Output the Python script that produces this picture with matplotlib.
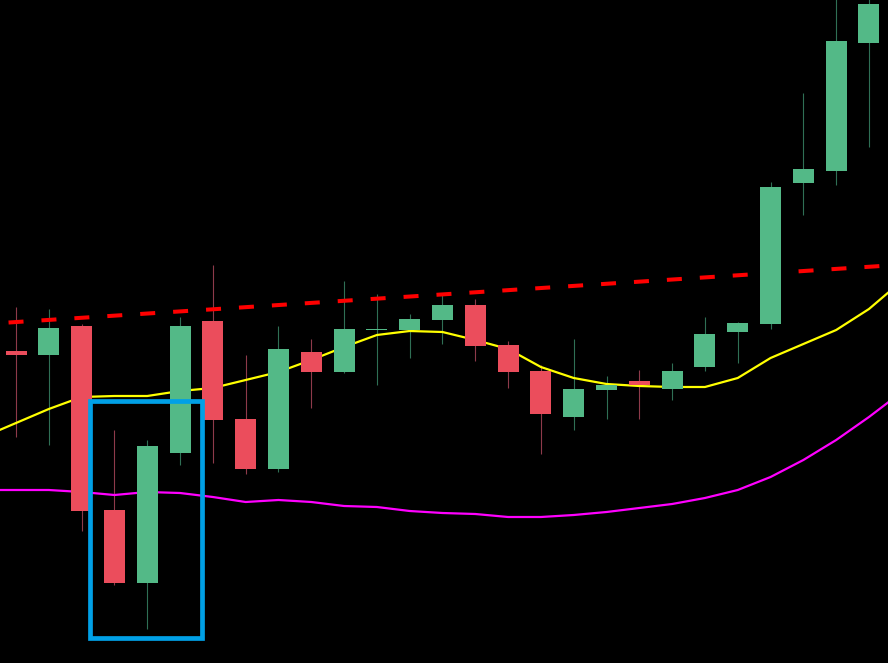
import numpy as np
import matplotlib.pyplot as plt
from matplotlib.patches import Rectangle

plt.rcParams['lines.scale_dashes'] = False

# OHLC per candle (price units)
opens = [312, 308, 337, 153, 80, 210, 342, 244, 194, 311, 291, 333, 333, 343,
         358, 318, 292, 246, 273, 282, 274, 296, 331, 339, 480, 492, 620]
closes = [308, 335, 152, 80, 217, 337, 243, 194, 314, 291, 334, 334, 344, 358,
          317, 291, 249, 274, 278, 278, 292, 329, 340, 476, 494, 622, 659]
highs = [356, 354, 339, 233, 223, 346, 398, 308, 337, 324, 382, 369, 349, 369,
         364, 322, 298, 324, 287, 293, 300, 346, 341, 481, 570, 690, 700]
lows = [226, 218, 132, 78, 34, 198, 200, 189, 191, 255, 290, 278, 305, 319,
        302, 275, 209, 233, 244, 244, 263, 292, 300, 334, 448, 478, 516]

# moving averages, index -1 .. 27
ma_x = np.arange(-1, 28)
ma_fast = [226, 240, 254, 266, 267, 267, 272, 275, 283, 291, 303, 316, 328, 332,
           331, 323, 314, 296, 285, 279, 277, 276, 276, 285, 305, 319, 333, 354, 382]
ma_slow = [173, 173, 173, 171, 168, 171, 170, 166, 161, 163, 161, 157, 156, 152,
           150, 149, 146, 146, 148, 151, 155, 159, 165, 173, 186, 203, 223, 246, 271]

# dashed trend line end points
trend_x = [-0.5, 26.6]
trend_y = [339.9, 397.5]

# highlight box around the two-candle pattern
box_left, box_right = 2.25, 5.68
box_low, box_high = 25, 262

up_color = '#53b987'
down_color = '#eb4d5c'
up_wick = '#2f6f55'
down_wick = '#8e3a4a'

fig = plt.figure(figsize=(8.88, 6.63), dpi=100, facecolor='black')
ax = fig.add_axes([0, 0, 1, 1])
ax.set_facecolor('black')

idx = np.arange(len(opens))
o = np.array(opens, dtype=float)
c = np.array(closes, dtype=float)
up = c >= o

ax.vlines(idx[up], np.array(lows)[up], np.array(highs)[up], color=up_wick, lw=0.8, zorder=1)
ax.vlines(idx[~up], np.array(lows)[~up], np.array(highs)[~up], color=down_wick, lw=0.8, zorder=1)

ax.plot(trend_x, trend_y, color='#ff0000', lw=2.9,
        linestyle=(17.3, (10.8, 12.95)), zorder=2)
ax.plot(ma_x, ma_fast, color='#ffff00', lw=1.6, zorder=2)
ax.plot(ma_x, ma_slow, color='#ff00ff', lw=1.6, zorder=2)

bottoms = np.minimum(o, c)
heights = np.maximum(np.abs(c - o), 1.0)
colors = [up_color if u else down_color for u in up]
ax.bar(idx, heights, bottom=bottoms, width=0.64, color=colors, linewidth=0, zorder=3)

ax.add_patch(Rectangle((box_left, box_low), box_right - box_left, box_high - box_low,
                       fill=False, edgecolor='#00a0e6', lw=3.4, zorder=4))

ax.set_xlim(-0.488, 26.58)
ax.set_ylim(0, 663)
ax.axis('off')

fig.savefig('out.png', dpi=100, facecolor='black')
